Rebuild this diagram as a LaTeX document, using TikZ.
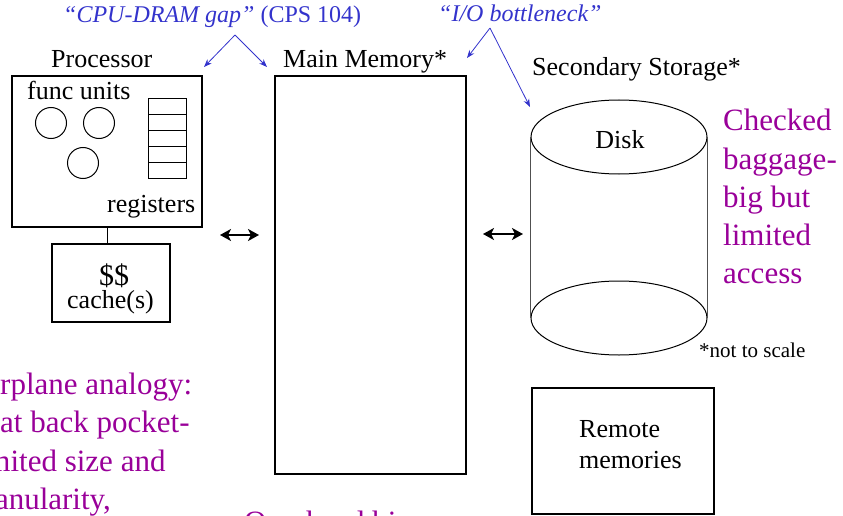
\documentclass[tikz,border=0pt]{standalone}
\usepackage{fontspec}
\setmainfont{Liberation Serif}
\usetikzlibrary{arrows.meta,shapes.geometric}
\definecolor{ablue}{RGB}{51,51,204}
\definecolor{apurple}{RGB}{153,0,153}
\definecolor{sidegray}{RGB}{80,80,80}
\begin{document}
\begin{tikzpicture}[x=1pt,y=-1pt,
  txt/.style={inner sep=0pt, anchor=base west, font=\fontsize{26}{31}\selectfont},
  note/.style={inner sep=0pt, anchor=base west, text=apurple, font=\fontsize{31}{38}\selectfont},
  hint/.style={inner sep=0pt, anchor=base west, text=ablue, font=\fontsize{24}{28}\selectfont},
  box/.style={draw, line width=1.2pt, inner sep=0pt, rectangle},
  unit/.style={draw, circle, line width=1pt, inner sep=0pt, minimum size=31pt},
  regcell/.style={draw, line width=1pt, inner sep=0pt, rectangle, minimum width=38pt, minimum height=15.8pt},
  disc/.style={draw, ellipse, line width=1pt, inner sep=0pt, minimum width=176pt, minimum height=74pt},
  hintarrow/.style={draw=ablue, line width=0.8pt, -{Stealth[length=8pt,width=6pt]}},
  link/.style={line width=2pt, {Stealth[length=11pt,width=12pt,inset=3pt]}-{Stealth[length=11pt,width=12pt,inset=3pt]}}
]
\useasboundingbox (0,0) rectangle (843,516);
\clip (0,0) rectangle (843,516);

% top hints
\node[hint] (gap) at (63,23) {\textit{``CPU-DRAM gap''} (CPS 104)};
\node[hint] (io) at (438,22) {\textit{``I/O bottleneck''}};
\coordinate (gapapex) at (235,35);
\coordinate (gapL) at (204,67);
\coordinate (gapR) at (267,67);
\coordinate (ioapex) at (490,28);
\coordinate (ioL) at (467,58);
\coordinate (ioR) at (530,107);
\draw[hintarrow] (gapapex) -- (gapL);
\draw[hintarrow] (gapapex) -- (gapR);
\draw[hintarrow] (ioapex) -- (ioL);
\draw[hintarrow] (ioapex) -- (ioR);

% processor
\node[txt] (proclbl) at (51,68) {Processor};
\node[box, minimum width=190pt, minimum height=151pt] (proc) at (107,151.5) {};
\node[txt] (funclbl) at (27,100) {func units};
\node[unit] (fu1) at (51,123) {};
\node[unit] (fu2) at (99,123) {};
\node[unit] (fu3) at (83,163) {};
\foreach \i in {0,...,4} \node[regcell] (reg\i) at (167,{106.9+\i*15.8}) {};
\node[txt] (reglbl) at (107,212) {registers};

% cache
\node[box, minimum width=118pt, minimum height=78pt] (cache) at (111,283) {};
\node[inner sep=0pt, anchor=base, font=\fontsize{30}{34}\selectfont] (cash) at (114,285) {\$\$};
\node[txt] (cachelbl) at (67,308) {cache(s)};
\draw[line width=1pt] (proc.south) -- (proc.south |- cache.north);

% main memory
\node[txt] (memlbl) at (283,68) {Main Memory*};
\node[box, minimum width=191pt, minimum height=398pt] (mem) at (370.5,275) {};

% links
\coordinate (a1) at (220,235);
\coordinate (a2) at (259,235);
\coordinate (b1) at (483,234);
\coordinate (b2) at (523,234);
\draw[link] (a1) -- (a2);
\draw[link] (b1) -- (b2);

% secondary storage
\node[txt] (seclbl) at (532,76) {Secondary Storage*};
\node[disc] (disktop) at (619,137) {};
\node[disc] (diskbot) at (619,318) {};
\draw[line width=1pt, sidegray] (disktop.west) -- (diskbot.west);
\draw[line width=1pt, sidegray] (disktop.east) -- (diskbot.east);
\node[inner sep=0pt, anchor=base, font=\fontsize{26}{31}\selectfont] (disklbl) at (620,148) {Disk};
\node[inner sep=0pt, anchor=base west, font=\fontsize{21}{25}\selectfont] (scale) at (699,357) {*not to scale};

% checked baggage
\node[note] (ck1) at (723,131) {Checked};
\node[note] (ck2) at (723,169) {baggage-};
\node[note] (ck3) at (723,207) {big but};
\node[note] (ck4) at (723,245) {limited};
\node[note] (ck5) at (723,283) {access};

% remote
\node[box, minimum width=182pt, minimum height=126pt] (remote) at (623,451) {};
\node[txt] (rem1) at (579,437) {Remote};
\node[txt] (rem2) at (579,468) {memories};

% airplane analogy
\node[note] (ap1) at (-31,394) {Airplane analogy:};
\node[note] (ap2) at (-31,432.5) {Seat back pocket-};
\node[note] (ap3) at (-31,471) {limited size and};
\node[note] (ap4) at (-31,509.5) {granularity,};

% overhead
\node[note] (oh) at (244,532) {Overhead bin};
\end{tikzpicture}
\end{document}
